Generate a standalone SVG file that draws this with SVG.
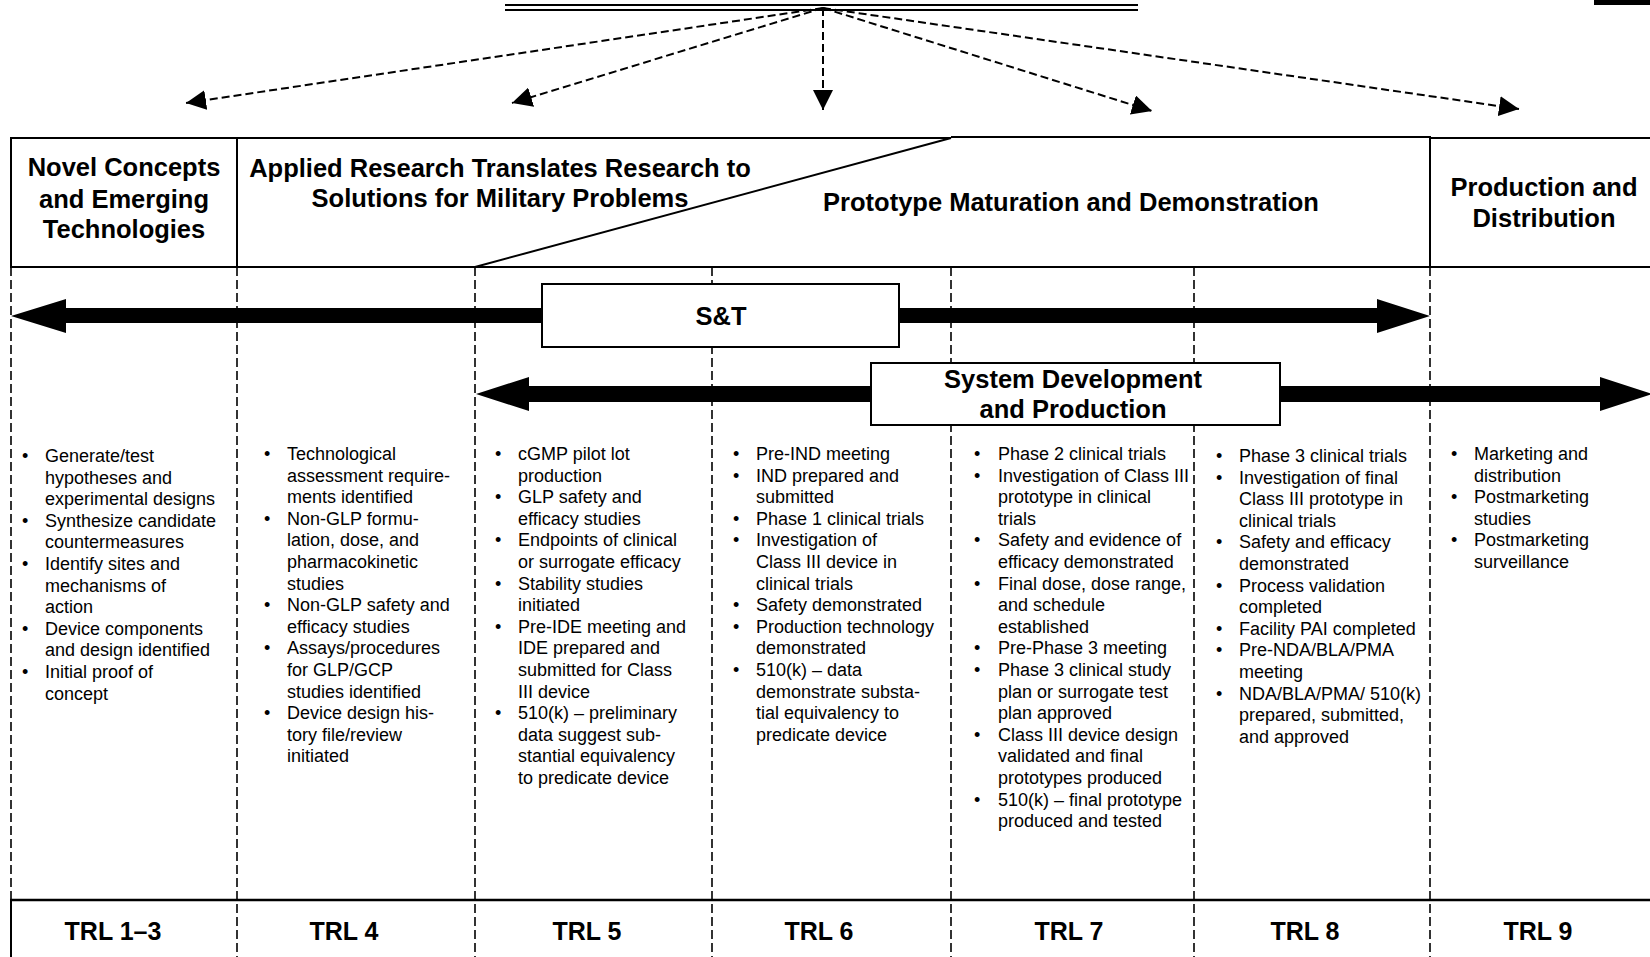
<svg xmlns="http://www.w3.org/2000/svg" width="1650" height="957" viewBox="0 0 1650 957">
<defs>
<style>
.hd{font-family:"Liberation Sans",Arial,sans-serif;font-weight:bold;font-size:25.5px;fill:#000;text-anchor:middle}
.trl{font-family:"Liberation Sans",Arial,sans-serif;font-weight:bold;font-size:25px;fill:#000;text-anchor:middle}
.bt{font-family:"Liberation Sans",Arial,sans-serif;font-size:18px;fill:#000}
.solid{stroke:#000;stroke-width:2;fill:none}
.grid{stroke:#000;stroke-width:1.6;stroke-dasharray:9 4;fill:none}
.dash{stroke:#000;stroke-width:2;stroke-dasharray:8 4;fill:none;marker-end:url(#ah)}
.box{fill:#fff;stroke:#000;stroke-width:2}
.big{fill:#000;stroke:none}
</style>
<marker id="ah" markerUnits="userSpaceOnUse" markerWidth="20" markerHeight="20" refX="20" refY="10" orient="auto">
<path d="M0,0 L20,10 L0,20 z" fill="#000"/>
</marker>
</defs>
<rect width="1650" height="957" fill="#fff"/>

<g id="title-bar">
<line x1="505" y1="5" x2="1138" y2="5" class="solid"/>
<line x1="505" y1="10" x2="1138" y2="10" class="solid"/>
<rect x="1594" y="0" width="56" height="5" fill="#000"/>
</g>

<g id="grid">
<line x1="11" y1="267" x2="11" y2="900" class="grid"/>
<line x1="237" y1="267" x2="237" y2="957" class="grid"/>
<line x1="475" y1="267" x2="475" y2="957" class="grid"/>
<line x1="712" y1="267" x2="712" y2="957" class="grid"/>
<line x1="951" y1="267" x2="951" y2="957" class="grid"/>
<line x1="1194" y1="267" x2="1194" y2="957" class="grid"/>
<line x1="1430" y1="267" x2="1430" y2="957" class="grid"/>
<line x1="11" y1="900" x2="11" y2="957" class="solid"/>
<line x1="10" y1="900" x2="1650" y2="900" stroke="#000" stroke-width="2.5"/>
</g>

<g id="stage-novel">
<rect x="11" y="138" width="226" height="129" class="solid"/>
<text class="hd"><tspan x="124" y="176">Novel Concepts</tspan><tspan x="124" y="207.5">and Emerging</tspan><tspan x="124" y="238">Technologies</tspan></text>
</g>
<g id="stage-applied">
<polyline points="237,138 951,138" class="solid"/>
<line x1="475" y1="267" x2="951" y2="138" class="solid"/>
<text class="hd"><tspan x="500" y="177">Applied Research Translates Research to</tspan><tspan x="500" y="207">Solutions for Military Problems</tspan></text>
</g>
<g id="stage-prototype">
<polyline points="951,137 1430,137 1430,267" class="solid"/>
<text class="hd" x="1071" y="211">Prototype Maturation and Demonstration</text>
</g>
<g id="stage-production">
<polyline points="1430,138 1650,138" class="solid"/>
<line x1="237" y1="267" x2="1650" y2="267" class="solid"/>
<text class="hd"><tspan x="1544" y="196">Production and</tspan><tspan x="1544" y="227">Distribution</tspan></text>
</g>

<g id="connectors">
<line x1="823" y1="8" x2="186" y2="103" class="dash"/>
<line x1="823" y1="8" x2="512" y2="103" class="dash"/>
<line x1="823" y1="8" x2="823" y2="110" class="dash"/>
<line x1="823" y1="8" x2="1152" y2="111" class="dash"/>
<line x1="823" y1="8" x2="1519" y2="109" class="dash"/>
<polygon class="big" points="11,316 66,299 66,308 1377,308 1377,299 1430,316 1377,333 1377,323 66,323 66,333"/>
<polygon class="big" points="476,394 529,377 529,386 1600,386 1600,377 1652,394 1600,411 1600,402 529,402 529,411"/>
</g>

<g id="st-box">
<rect x="542" y="284" width="357" height="63" class="box"/>
<text class="hd" x="721" y="325">S&amp;T</text>
</g>
<g id="sdp-box">
<rect x="871" y="363" width="409" height="62" class="box"/>
<text class="hd"><tspan x="1073" y="388">System Development</tspan><tspan x="1073" y="418">and Production</tspan></text>
</g>

<g id="trl-1-3">
<text class="bt"><tspan x="22" y="462">•</tspan><tspan x="22" y="526.8">•</tspan><tspan x="22" y="570">•</tspan><tspan x="22" y="634.8">•</tspan><tspan x="22" y="678">•</tspan></text>
<text class="bt"><tspan x="45" y="462">Generate/test</tspan><tspan x="45" dy="21.6">hypotheses and</tspan><tspan x="45" dy="21.6">experimental designs</tspan><tspan x="45" dy="21.6">Synthesize candidate</tspan><tspan x="45" dy="21.6">countermeasures</tspan><tspan x="45" dy="21.6">Identify sites and</tspan><tspan x="45" dy="21.6">mechanisms of</tspan><tspan x="45" dy="21.6">action</tspan><tspan x="45" dy="21.6">Device components</tspan><tspan x="45" dy="21.6">and design identified</tspan><tspan x="45" dy="21.6">Initial proof of</tspan><tspan x="45" dy="21.6">concept</tspan></text>
<text class="trl" x="113" y="940">TRL 1–3</text>
</g>

<g id="trl-4">
<text class="bt"><tspan x="264" y="460">•</tspan><tspan x="264" y="524.8">•</tspan><tspan x="264" y="611.2">•</tspan><tspan x="264" y="654.4">•</tspan><tspan x="264" y="719.2">•</tspan></text>
<text class="bt"><tspan x="287" y="460">Technological</tspan><tspan x="287" dy="21.6">assessment require-</tspan><tspan x="287" dy="21.6">ments identified</tspan><tspan x="287" dy="21.6">Non-GLP formu-</tspan><tspan x="287" dy="21.6">lation, dose, and</tspan><tspan x="287" dy="21.6">pharmacokinetic</tspan><tspan x="287" dy="21.6">studies</tspan><tspan x="287" dy="21.6">Non-GLP safety and</tspan><tspan x="287" dy="21.6">efficacy studies</tspan><tspan x="287" dy="21.6">Assays/procedures</tspan><tspan x="287" dy="21.6">for GLP/GCP</tspan><tspan x="287" dy="21.6">studies identified</tspan><tspan x="287" dy="21.6">Device design his-</tspan><tspan x="287" dy="21.6">tory file/review</tspan><tspan x="287" dy="21.6">initiated</tspan></text>
<text class="trl" x="344" y="940">TRL 4</text>
</g>

<g id="trl-5">
<text class="bt"><tspan x="495" y="460">•</tspan><tspan x="495" y="503.2">•</tspan><tspan x="495" y="546.4">•</tspan><tspan x="495" y="589.6">•</tspan><tspan x="495" y="632.8">•</tspan><tspan x="495" y="719.2">•</tspan></text>
<text class="bt"><tspan x="518" y="460">cGMP pilot lot</tspan><tspan x="518" dy="21.6">production</tspan><tspan x="518" dy="21.6">GLP safety and</tspan><tspan x="518" dy="21.6">efficacy studies</tspan><tspan x="518" dy="21.6">Endpoints of clinical</tspan><tspan x="518" dy="21.6">or surrogate efficacy</tspan><tspan x="518" dy="21.6">Stability studies</tspan><tspan x="518" dy="21.6">initiated</tspan><tspan x="518" dy="21.6">Pre-IDE meeting and</tspan><tspan x="518" dy="21.6">IDE prepared and</tspan><tspan x="518" dy="21.6">submitted for Class</tspan><tspan x="518" dy="21.6">III device</tspan><tspan x="518" dy="21.6">510(k) – preliminary</tspan><tspan x="518" dy="21.6">data suggest sub-</tspan><tspan x="518" dy="21.6">stantial equivalency</tspan><tspan x="518" dy="21.6">to predicate device</tspan></text>
<text class="trl" x="587" y="940">TRL 5</text>
</g>

<g id="trl-6">
<text class="bt"><tspan x="733" y="460">•</tspan><tspan x="733" y="481.6">•</tspan><tspan x="733" y="524.8">•</tspan><tspan x="733" y="546.4">•</tspan><tspan x="733" y="611.2">•</tspan><tspan x="733" y="632.8">•</tspan><tspan x="733" y="676">•</tspan></text>
<text class="bt"><tspan x="756" y="460">Pre-IND meeting</tspan><tspan x="756" dy="21.6">IND prepared and</tspan><tspan x="756" dy="21.6">submitted</tspan><tspan x="756" dy="21.6">Phase 1 clinical trials</tspan><tspan x="756" dy="21.6">Investigation of</tspan><tspan x="756" dy="21.6">Class III device in</tspan><tspan x="756" dy="21.6">clinical trials</tspan><tspan x="756" dy="21.6">Safety demonstrated</tspan><tspan x="756" dy="21.6">Production technology</tspan><tspan x="756" dy="21.6">demonstrated</tspan><tspan x="756" dy="21.6">510(k) – data</tspan><tspan x="756" dy="21.6">demonstrate substa-</tspan><tspan x="756" dy="21.6">tial equivalency to</tspan><tspan x="756" dy="21.6">predicate device</tspan></text>
<text class="trl" x="819" y="940">TRL 6</text>
</g>

<g id="trl-7">
<text class="bt"><tspan x="974" y="460">•</tspan><tspan x="974" y="481.6">•</tspan><tspan x="974" y="546.4">•</tspan><tspan x="974" y="589.6">•</tspan><tspan x="974" y="654.4">•</tspan><tspan x="974" y="676">•</tspan><tspan x="974" y="740.8">•</tspan><tspan x="974" y="805.6">•</tspan></text>
<text class="bt"><tspan x="998" y="460">Phase 2 clinical trials</tspan><tspan x="998" dy="21.6">Investigation of Class III</tspan><tspan x="998" dy="21.6">prototype in clinical</tspan><tspan x="998" dy="21.6">trials</tspan><tspan x="998" dy="21.6">Safety and evidence of</tspan><tspan x="998" dy="21.6">efficacy demonstrated</tspan><tspan x="998" dy="21.6">Final dose, dose range,</tspan><tspan x="998" dy="21.6">and schedule</tspan><tspan x="998" dy="21.6">established</tspan><tspan x="998" dy="21.6">Pre-Phase 3 meeting</tspan><tspan x="998" dy="21.6">Phase 3 clinical study</tspan><tspan x="998" dy="21.6">plan or surrogate test</tspan><tspan x="998" dy="21.6">plan approved</tspan><tspan x="998" dy="21.6">Class III device design</tspan><tspan x="998" dy="21.6">validated and final</tspan><tspan x="998" dy="21.6">prototypes produced</tspan><tspan x="998" dy="21.6">510(k) – final prototype</tspan><tspan x="998" dy="21.6">produced and tested</tspan></text>
<text class="trl" x="1069" y="940">TRL 7</text>
</g>

<g id="trl-8">
<text class="bt"><tspan x="1216" y="462">•</tspan><tspan x="1216" y="483.6">•</tspan><tspan x="1216" y="548.4">•</tspan><tspan x="1216" y="591.6">•</tspan><tspan x="1216" y="634.8">•</tspan><tspan x="1216" y="656.4">•</tspan><tspan x="1216" y="699.6">•</tspan></text>
<text class="bt"><tspan x="1239" y="462">Phase 3 clinical trials</tspan><tspan x="1239" dy="21.6">Investigation of final</tspan><tspan x="1239" dy="21.6">Class III prototype in</tspan><tspan x="1239" dy="21.6">clinical trials</tspan><tspan x="1239" dy="21.6">Safety and efficacy</tspan><tspan x="1239" dy="21.6">demonstrated</tspan><tspan x="1239" dy="21.6">Process validation</tspan><tspan x="1239" dy="21.6">completed</tspan><tspan x="1239" dy="21.6">Facility PAI completed</tspan><tspan x="1239" dy="21.6">Pre-NDA/BLA/PMA</tspan><tspan x="1239" dy="21.6">meeting</tspan><tspan x="1239" dy="21.6">NDA/BLA/PMA/ 510(k)</tspan><tspan x="1239" dy="21.6">prepared, submitted,</tspan><tspan x="1239" dy="21.6">and approved</tspan></text>
<text class="trl" x="1305" y="940">TRL 8</text>
</g>

<g id="trl-9">
<text class="bt"><tspan x="1451" y="460">•</tspan><tspan x="1451" y="503.2">•</tspan><tspan x="1451" y="546.4">•</tspan></text>
<text class="bt"><tspan x="1474" y="460">Marketing and</tspan><tspan x="1474" dy="21.6">distribution</tspan><tspan x="1474" dy="21.6">Postmarketing</tspan><tspan x="1474" dy="21.6">studies</tspan><tspan x="1474" dy="21.6">Postmarketing</tspan><tspan x="1474" dy="21.6">surveillance</tspan></text>
<text class="trl" x="1538" y="940">TRL 9</text>
</g>
</svg>
